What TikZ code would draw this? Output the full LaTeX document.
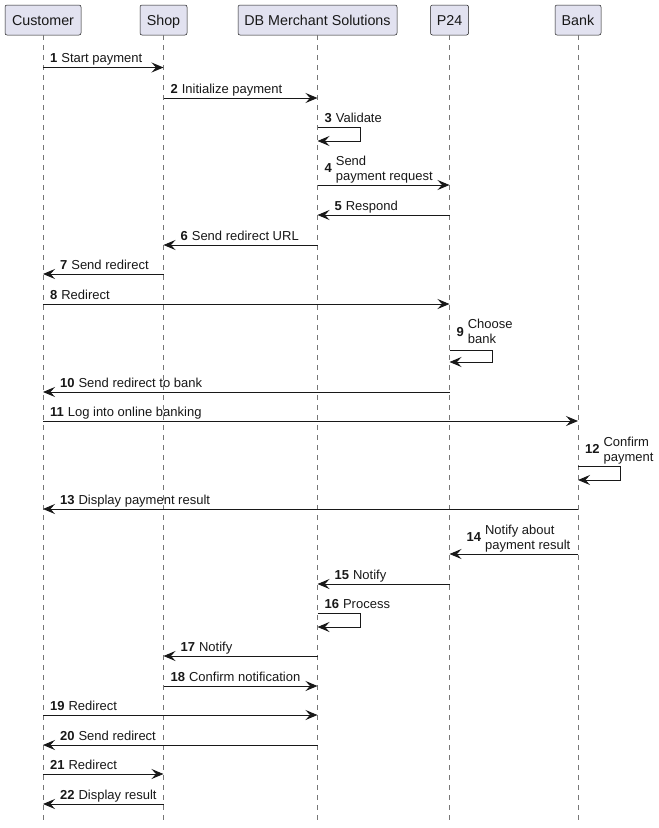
\documentclass[tikz,border=0pt]{standalone}
\usepackage{fontspec}
\setmainfont{Liberation Sans}
\usetikzlibrary{arrows.meta}
\definecolor{boxfill}{HTML}{E2E2F0}
\definecolor{boxline}{HTML}{181818}
\definecolor{lifegray}{HTML}{777777}
\newcommand{\msgfont}{\fontsize{13}{15}\selectfont}
\newcommand{\lblgap}{3.5}
\tikzset{
    actorbox/.style={draw=boxline, line width=0.5pt, fill=boxfill, rounded corners=2pt, minimum height=30pt, inner sep=0pt, text height=10pt, text depth=0pt, font=\fontsize{14.3}{16}\selectfont, text=boxline},
    lifeline/.style={draw=lifegray, line width=0.7pt, dash pattern=on 5pt off 5pt},
    msgline/.style={draw=boxline, line width=1pt, -{Stealth[length=12pt, width=10pt, inset=4.5pt]}},
    msgnum/.style={inner sep=0pt, anchor=base west, font=\msgfont\bfseries, text=boxline},
    msgtext/.style={inner sep=0pt, anchor=south west, align=left, text depth=3pt, font=\msgfont, text=boxline},
}

\begin{document}
\begin{tikzpicture}[x=1pt, y=-1pt]
    \useasboundingbox (0, 0) rectangle (659, 828);

    \node[actorbox, minimum width=76pt] (customer) at (43, 20) {Customer};
    \node[actorbox, minimum width=47pt] (shop) at (163.5, 20) {Shop};
    \node[actorbox, minimum width=159pt] (merchant) at (317.5, 20) {DB Merchant Solutions};
    \node[actorbox, minimum width=38pt] (ptf) at (449.5, 20) {P24};
    \node[actorbox, minimum width=46pt] (bank) at (578, 20) {Bank};

    \foreach \who in {customer, shop, merchant, ptf, bank} {
        \coordinate (\who-end) at (\who |- 0, 822);
        \draw[lifeline] (\who.south) -- (\who-end);
    }

    % left to right
    \foreach \idx/\src/\dst/\ypos/\txt in {
        1/customer/shop/67.5/Start payment,
        2/shop/merchant/98/Initialize payment,
        8/customer/ptf/304/Redirect,
        11/customer/bank/421/Log into online banking,
        18/shop/merchant/686/Confirm notification,
        19/customer/merchant/715/Redirect,
        21/customer/shop/774/Redirect} {
        \draw[msgline] (\src |- 0, \ypos) -- (\dst |- 0, \ypos);
        \node[msgnum] (num\idx) at ([xshift=7pt]\src |- 0, \ypos-4.7) {\idx};
        \node[msgtext] (txt\idx) at ([xshift=\lblgap pt]num\idx.base east |- 0, \ypos-1.7) {\txt};
    }

    % right to left
    \foreach \idx/\src/\dst/\ypos/\txt in {
        5/ptf/merchant/215/Respond,
        6/merchant/shop/245/Send redirect URL,
        7/shop/customer/274/Send redirect,
        10/ptf/customer/392/Send redirect to bank,
        13/bank/customer/509/Display payment result,
        15/ptf/merchant/584/Notify,
        17/merchant/shop/656/Notify,
        20/merchant/customer/745/Send redirect,
        22/shop/customer/804/Display result} {
        \draw[msgline] (\src |- 0, \ypos) -- (\dst |- 0, \ypos);
        \node[msgnum] (num\idx) at ([xshift=17pt]\dst |- 0, \ypos-4.7) {\idx};
        \node[msgtext] (txt\idx) at ([xshift=\lblgap pt]num\idx.base east |- 0, \ypos-1.7) {\txt};
    }

    % self messages
    \foreach \idx/\src/\far/\ypos/\txt in {
        3/merchant/360/127/Validate,
        16/merchant/360/613/Process} {
        \draw[msgline] (\src |- 0, \ypos) -| (\far, \ypos+14) -- (\src |- 0, \ypos+14);
        \node[msgnum] (num\idx) at ([xshift=7pt]\src |- 0, \ypos-4.7) {\idx};
        \node[msgtext] (txt\idx) at ([xshift=\lblgap pt]num\idx.base east |- 0, \ypos-1.7) {\txt};
    }
    \draw[msgline] (ptf |- 0, 350) -| (492, 362) -- (ptf |- 0, 362);
    \node[msgnum] (num9) at ([xshift=7pt]ptf |- 0, 336) {9};
    \node[msgtext] (txt9) at ([xshift=\lblgap pt]num9.base east |- 0, 347) {Choose\\bank};
    \draw[msgline] (bank |- 0, 466) -| (620, 480) -- (bank |- 0, 480);
    \node[msgnum] (num12) at ([xshift=7pt]bank |- 0, 453) {12};
    \node[msgtext] (txt12) at ([xshift=\lblgap pt]num12.base east |- 0, 464.3) {Confirm\\payment};

    % two lines of text
    \draw[msgline] (merchant |- 0, 185) -- (ptf |- 0, 185);
    \node[msgnum] (num4) at ([xshift=7pt]merchant |- 0, 172) {4};
    \node[msgtext] (txt4) at ([xshift=\lblgap pt]num4.base east |- 0, 183.3) {Send\\payment request};
    \draw[msgline] (bank |- 0, 554) -- (ptf |- 0, 554);
    \node[msgnum] (num14) at ([xshift=17pt]ptf |- 0, 541) {14};
    \node[msgtext] (txt14) at ([xshift=\lblgap pt]num14.base east |- 0, 552.3) {Notify about\\payment result};
\end{tikzpicture}
\end{document}
